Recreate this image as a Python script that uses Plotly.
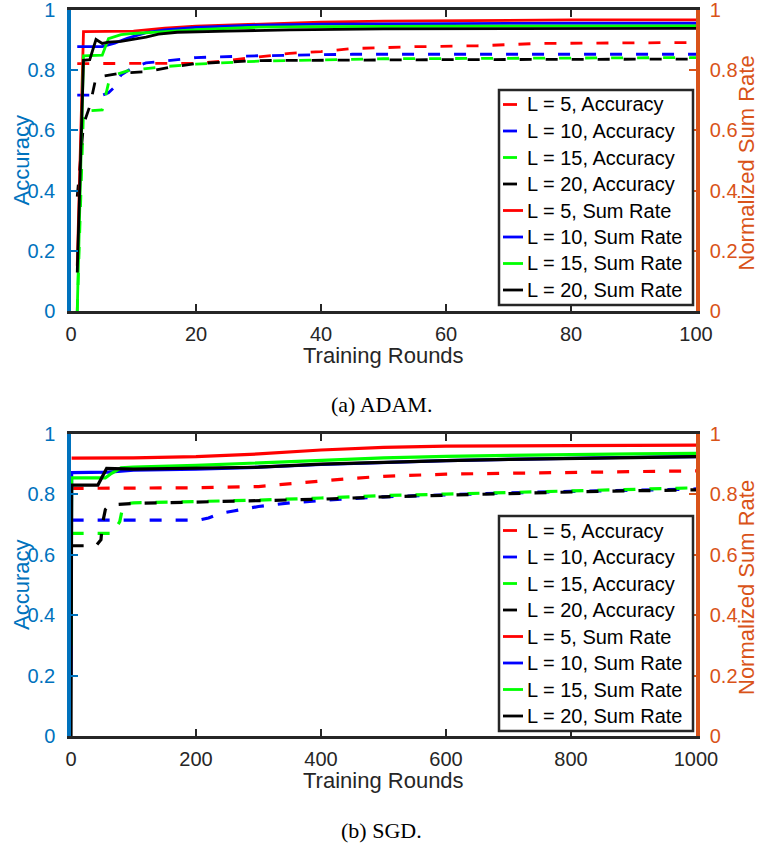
import plotly.graph_objects as go

W, H = 761, 852

# ---------------- data ----------------
L_LABELS = ["L = 5", "L = 10", "L = 15", "L = 20"]
COLORS = ["#FF0000", "#0000FF", "#00FF00", "#000000"]
X_TICKS_ADAM = [0, 20, 40, 60, 80, 100]
X_TICKS_SGD = [0, 200, 400, 600, 800, 1000]
Y_TICKS = [0, 0.2, 0.4, 0.6, 0.8, 1]
Y_TICK_TEXT = ["0", "0.2", "0.4", "0.6", "0.8", "1"]

# ADAM - accuracy (dashed)
adam_acc_l5_x = [1, 20, 25, 30, 35, 40, 45, 55, 65, 75, 100]
adam_acc_l5_y = [0.822, 0.823, 0.832, 0.845, 0.856, 0.862, 0.872, 0.878, 0.881, 0.889, 0.892]
adam_acc_l10_x = [1, 5, 6, 7, 8, 10, 12, 15, 20, 30, 45, 100]
adam_acc_l10_y = [0.717, 0.717, 0.725, 0.745, 0.784, 0.81, 0.824, 0.83, 0.842, 0.848, 0.853, 0.853]
adam_acc_l15_x = [1, 2, 5, 6, 7, 9, 12, 15, 20, 30, 50, 100]
adam_acc_l15_y = [0.0, 0.664, 0.668, 0.757, 0.784, 0.798, 0.805, 0.812, 0.82, 0.83, 0.838, 0.842]
adam_acc_l20_x = [1, 2, 3, 4, 5, 8, 12, 16, 20, 30, 60, 100]
adam_acc_l20_y = [0.38, 0.62, 0.68, 0.776, 0.78, 0.79, 0.795, 0.81, 0.822, 0.832, 0.835, 0.837]

# ADAM - normalized sum rate (solid)
adam_sr_l5_x = [1, 2, 10, 15, 20, 30, 40, 50, 60, 80, 100]
adam_sr_l5_y = [0.15, 0.928, 0.93, 0.94, 0.946, 0.953, 0.96, 0.963, 0.965, 0.967, 0.967]
adam_sr_l10_x = [1, 5, 7, 9, 12, 15, 20, 30, 40, 60, 80, 100]
adam_sr_l10_y = [0.878, 0.878, 0.89, 0.906, 0.925, 0.934, 0.942, 0.95, 0.953, 0.955, 0.956, 0.956]
adam_sr_l15_x = [1, 2, 5, 6, 8, 10, 15, 20, 30, 40, 60, 100]
adam_sr_l15_y = [0.0, 0.848, 0.85, 0.905, 0.918, 0.922, 0.928, 0.935, 0.943, 0.945, 0.946, 0.947]
adam_sr_l20_x = [1, 2, 3, 4, 5, 6, 8, 10, 12, 14, 17, 25, 35, 50, 100]
adam_sr_l20_y = [0.128, 0.833, 0.835, 0.902, 0.889, 0.893, 0.896, 0.903, 0.91, 0.92, 0.926, 0.93, 0.934, 0.937, 0.939]

# SGD - accuracy (dashed)
sgd_acc_l5_x = [1, 100, 200, 300, 350, 400, 450, 500, 600, 700, 800, 900, 1000]
sgd_acc_l5_y = [0.82, 0.82, 0.822, 0.826, 0.835, 0.845, 0.853, 0.86, 0.867, 0.87, 0.873, 0.876, 0.878]
sgd_acc_l10_x = [1, 205, 220, 240, 260, 280, 300, 350, 400, 500, 600, 700, 800, 900, 1000]
sgd_acc_l10_y = [0.715, 0.715, 0.722, 0.738, 0.745, 0.752, 0.76, 0.772, 0.78, 0.792, 0.799, 0.805, 0.81, 0.814, 0.818]
sgd_acc_l15_x = [1, 67, 72, 78, 83, 90, 100, 200, 300, 400, 500, 600, 700, 800, 900, 1000]
sgd_acc_l15_y = [0.671, 0.671, 0.69, 0.71, 0.76, 0.77, 0.772, 0.776, 0.781, 0.788, 0.796, 0.801, 0.806, 0.812, 0.817, 0.822]
sgd_acc_l20_x = [1, 40, 48, 50, 55, 62, 100, 200, 300, 400, 500, 600, 700, 800, 900, 1000]
sgd_acc_l20_y = [0.63, 0.63, 0.65, 0.70, 0.75, 0.765, 0.77, 0.774, 0.778, 0.784, 0.792, 0.798, 0.803, 0.808, 0.812, 0.815]

# SGD - normalized sum rate (solid)
sgd_sr_l5_x = [1, 100, 200, 300, 400, 500, 600, 700, 800, 900, 1000]
sgd_sr_l5_y = [0.92, 0.921, 0.925, 0.934, 0.947, 0.956, 0.96, 0.961, 0.962, 0.963, 0.963]
sgd_sr_l10_x = [0, 1, 60, 100, 200, 300, 400, 500, 600, 700, 800, 900, 1000]
sgd_sr_l10_y = [0.2, 0.872, 0.874, 0.88, 0.884, 0.89, 0.899, 0.906, 0.912, 0.916, 0.92, 0.923, 0.925]
sgd_sr_l15_x = [0, 1, 55, 65, 80, 100, 200, 300, 400, 500, 600, 700, 800, 900, 1000]
sgd_sr_l15_y = [0.3, 0.855, 0.855, 0.87, 0.888, 0.89, 0.896, 0.905, 0.914, 0.921, 0.926, 0.93, 0.932, 0.934, 0.936]
sgd_sr_l20_x = [0, 1, 43, 50, 57, 100, 200, 300, 400, 500, 600, 700, 800, 900, 1000]
sgd_sr_l20_y = [0.0, 0.831, 0.831, 0.86, 0.886, 0.884, 0.887, 0.89, 0.9, 0.907, 0.912, 0.916, 0.92, 0.922, 0.925]

# ---------------- styling ----------------
SANS = "Liberation Sans, Arial, Helvetica, sans-serif"
SERIF = "Liberation Serif, Times New Roman, serif"
AX_DARK = "#262626"
LEFT_C = "#0072BD"
RIGHT_C = "#D95319"
DASH = "12px,14px"


def fx(px):
    return px / W


def fy(py):
    return 1 - py / H


fig = go.Figure()

panels = [
    dict(xa="x", ya="y", ya2="y2", w=2.8,
         acc=[(adam_acc_l5_x, adam_acc_l5_y), (adam_acc_l10_x, adam_acc_l10_y),
              (adam_acc_l15_x, adam_acc_l15_y), (adam_acc_l20_x, adam_acc_l20_y)],
         sr=[(adam_sr_l5_x, adam_sr_l5_y), (adam_sr_l10_x, adam_sr_l10_y),
             (adam_sr_l15_x, adam_sr_l15_y), (adam_sr_l20_x, adam_sr_l20_y)]),
    dict(xa="x2", ya="y3", ya2="y4", w=3.2,
         acc=[(sgd_acc_l5_x, sgd_acc_l5_y), (sgd_acc_l10_x, sgd_acc_l10_y),
              (sgd_acc_l15_x, sgd_acc_l15_y), (sgd_acc_l20_x, sgd_acc_l20_y)],
         sr=[(sgd_sr_l5_x, sgd_sr_l5_y), (sgd_sr_l10_x, sgd_sr_l10_y),
             (sgd_sr_l15_x, sgd_sr_l15_y), (sgd_sr_l20_x, sgd_sr_l20_y)]),
]

for p in panels:
    for (xs, ys), name, col in zip(p["acc"], L_LABELS, COLORS):
        fig.add_trace(go.Scatter(x=xs, y=ys, mode="lines", name=name + ", Accuracy",
                                 line=dict(color=col, width=p["w"], dash=DASH),
                                 xaxis=p["xa"], yaxis=p["ya"], showlegend=False))
    for (xs, ys), name, col in zip(p["sr"], L_LABELS, COLORS):
        fig.add_trace(go.Scatter(x=xs, y=ys, mode="lines", name=name + ", Sum Rate",
                                 line=dict(color=col, width=p["w"]),
                                 xaxis=p["xa"], yaxis=p["ya2"], showlegend=False))

# plot-area pixel geometry
PL, PR = 71, 696
TOP_T, TOP_B = 10, 311
BOT_T, BOT_B = 434, 736
TICK_FS = 20


def xaxis(ticks, rng, anchor):
    return dict(domain=[fx(PL), fx(PR)], range=rng, anchor=anchor, automargin=False,
                showline=True, linecolor=AX_DARK, linewidth=2.5, mirror="ticks",
                ticks="inside", ticklen=7, tickwidth=2, tickcolor=AX_DARK,
                tickvals=ticks, ticktext=[str(t) for t in ticks],
                tickfont=dict(family=SANS, size=TICK_FS, color=AX_DARK),
                showgrid=False, zeroline=False, ticklabelstandoff=3,
                ticklabeloverflow="allow")


def yleft(dom, anchor):
    return dict(domain=dom, range=[0, 1], anchor=anchor, automargin=False,
                showline=True, linecolor=LEFT_C, linewidth=3.5,
                ticks="inside", ticklen=7, tickwidth=2, tickcolor=LEFT_C,
                tickvals=Y_TICKS, ticktext=Y_TICK_TEXT,
                tickfont=dict(family=SANS, size=TICK_FS, color=LEFT_C),
                showgrid=False, zeroline=False, ticklabelstandoff=8,
                ticklabeloverflow="allow")


def yright(over, anchor):
    return dict(overlaying=over, side="right", range=[0, 1], anchor=anchor, automargin=False,
                showline=True, linecolor=RIGHT_C, linewidth=3.5,
                ticks="inside", ticklen=7, tickwidth=2, tickcolor=RIGHT_C,
                tickvals=Y_TICKS, ticktext=Y_TICK_TEXT,
                tickfont=dict(family=SANS, size=TICK_FS, color=RIGHT_C),
                showgrid=False, zeroline=False, ticklabelstandoff=6,
                ticklabeloverflow="allow")


fig.update_layout(
    width=W, height=H, margin=dict(l=0, r=0, t=0, b=0, pad=0, autoexpand=False),
    paper_bgcolor="white", plot_bgcolor="white", showlegend=False,
    xaxis=xaxis(X_TICKS_ADAM, [0, 100], "y"),
    yaxis=yleft([fy(TOP_B), fy(TOP_T)], "x"),
    yaxis2=yright("y", "x"),
    xaxis2=xaxis(X_TICKS_SGD, [0, 1000], "y3"),
    yaxis3=yleft([fy(BOT_B), fy(BOT_T)], "x2"),
    yaxis4=yright("y3", "x2"),
)

annotations = []
shapes = []

# axis titles and captions
for top, bottom, cap in [(TOP_T, TOP_B, "(a) ADAM."), (BOT_T, BOT_B, "(b) SGD.")]:
    mid = (top + bottom) / 2
    annotations.append(dict(x=fx(21), y=fy(mid), xref="paper", yref="paper", text="Accuracy",
                            textangle=-90, showarrow=False, xanchor="center", yanchor="middle",
                            font=dict(family=SANS, size=22, color=LEFT_C)))
    annotations.append(dict(x=fx(746), y=fy(mid + 3), xref="paper", yref="paper",
                            text="Normalized Sum Rate", textangle=-90, showarrow=False,
                            xanchor="center", yanchor="middle",
                            font=dict(family=SANS, size=22, color=RIGHT_C)))
    annotations.append(dict(x=fx(383), y=fy(bottom + 44), xref="paper", yref="paper",
                            text="Training Rounds", showarrow=False, xanchor="center",
                            yanchor="middle", font=dict(family=SANS, size=22, color=AX_DARK)))
    annotations.append(dict(x=fx(381), y=fy(bottom + 94), xref="paper", yref="paper",
                            text=cap, showarrow=False, xanchor="center", yanchor="middle",
                            font=dict(family=SERIF, size=22, color="black")))

# legends (opaque boxes)
legend_names = [n + ", Accuracy" for n in L_LABELS] + [n + ", Sum Rate" for n in L_LABELS]
legend_cols = COLORS + COLORS
for off in (0, 426):
    x0, x1, y0, y1 = 499, 693, 90 + off, 305 + off
    shapes.append(dict(type="rect", xref="paper", yref="paper", x0=fx(x0), x1=fx(x1),
                       y0=fy(y1), y1=fy(y0), fillcolor="white",
                       line=dict(color=AX_DARK, width=2.5), layer="above"))
    for i, (name, col) in enumerate(zip(legend_names, legend_cols)):
        yc = 104.5 + 26.5 * i + off
        xe = 517 if i < 4 else 523
        shapes.append(dict(type="line", xref="paper", yref="paper", x0=fx(503), x1=fx(xe),
                           y0=fy(yc), y1=fy(yc), line=dict(color=col, width=2.8), layer="above"))
        annotations.append(dict(x=fx(525), y=fy(yc), xref="paper", yref="paper", text=name,
                                showarrow=False, xanchor="left", yanchor="middle",
                                font=dict(family=SANS, size=20, color="black")))

fig.update_layout(annotations=annotations, shapes=shapes)
fig.write_html("out.html", config={"displayModeBar": False},
               post_script="document.body.style.margin='0';document.body.style.overflow='hidden';")
